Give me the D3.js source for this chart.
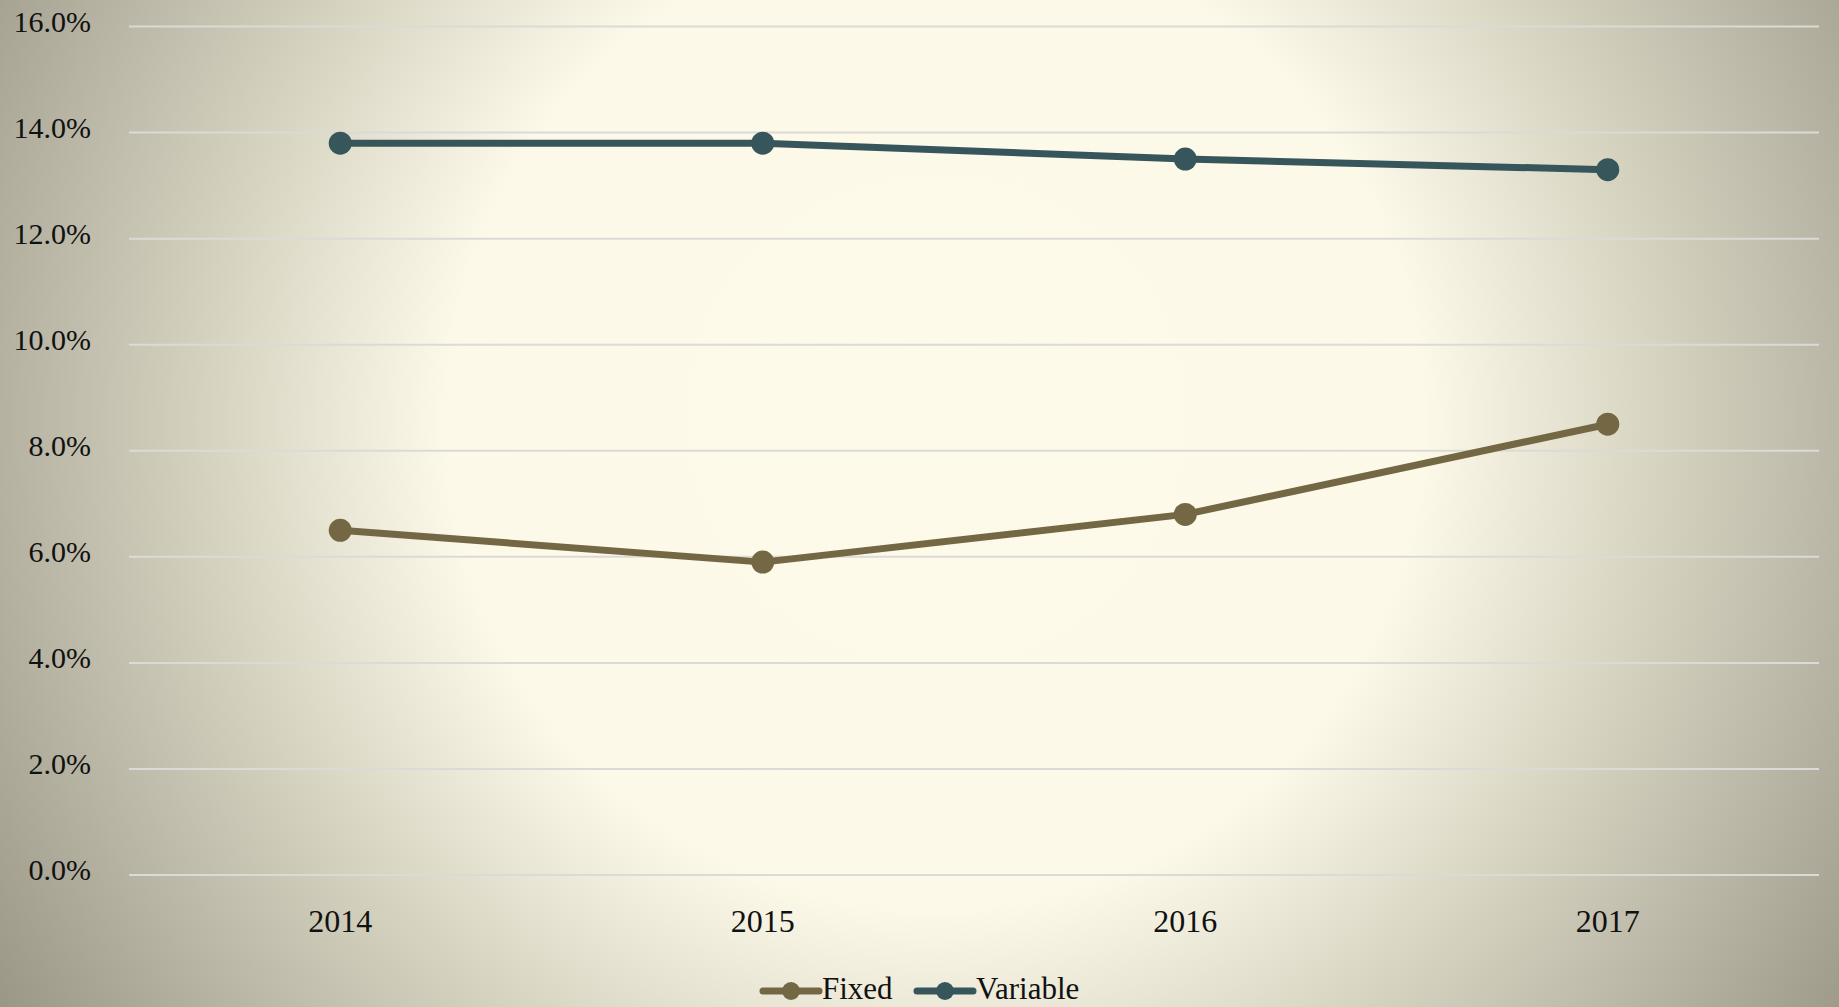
<!DOCTYPE html>
<html><head><meta charset="utf-8">
<script src="https://cdn.jsdelivr.net/npm/d3@7"></script>
<style>html,body{margin:0;padding:0;overflow:hidden;background:#fcf9e9}svg{display:block}</style>
</head><body>
<script>
const categories = ["2014","2015","2016","2017"];
const fixedValues = [6.5, 5.9, 6.8, 8.5];
const variableValues = [13.8, 13.8, 13.5, 13.3];
const yTicks = [0,2,4,6,8,10,12,14,16];
const seriesNames = ["Fixed","Variable"];
const seriesColors = ["#736843","#37565b"];

const W = 1839, H = 1007;
const svg = d3.select("body").append("svg").attr("width", W).attr("height", H);
const defs = svg.append("defs");
const g = defs.append("radialGradient").attr("id","bg").attr("gradientUnits","userSpaceOnUse")
  .attr("cx",935).attr("cy",420).attr("r",1110);
[[0,"#fdfaea"],[0.44,"#fcf9e9"],[0.64,"#d8d5c3"],[1,"#999686"]].forEach(([o,c])=>
  g.append("stop").attr("offset",o).attr("stop-color",c));
svg.append("rect").attr("width",W).attr("height",H).attr("fill","url(#bg)");

const x = d3.scaleBand().domain(categories).range([129,1819]);
const y = d3.scaleLinear().domain([0,16]).range([875,26.5]);
const font = "'Liberation Serif','DejaVu Serif',serif";

// gridlines
svg.append("g").selectAll("line").data(yTicks).join("line")
  .attr("x1",129).attr("x2",1819).attr("y1",d=>y(d)).attr("y2",d=>y(d))
  .attr("stroke","#dcdad6").attr("stroke-width",2);

// y axis
const yAxis = d3.axisLeft(y).tickValues(yTicks).tickFormat(d=>d.toFixed(1)+"%").tickSize(0).tickPadding(0);
const ya = svg.append("g").attr("transform","translate(91,0)").call(yAxis);
ya.select(".domain").remove();
ya.selectAll("text").attr("font-family",font).attr("font-size",30).attr("fill","#111")
  .attr("dy","0.15em");

// x axis
const xAxis = d3.axisBottom(x).tickSize(0).tickPadding(0);
const xa = svg.append("g").attr("transform","translate(0,906)").call(xAxis);
xa.select(".domain").remove();
xa.selectAll("text").attr("font-family",font).attr("font-size",32).attr("fill","#111").attr("dy","0.8em");

const series = [fixedValues, variableValues];
const line = d3.line().x((d,i)=>x(categories[i])+x.bandwidth()/2).y(d=>y(d));
series.forEach((vals,si)=>{
  svg.append("path").datum(vals).attr("d",line).attr("fill","none")
    .attr("stroke",seriesColors[si]).attr("stroke-width",7).attr("stroke-linejoin","round");
  svg.append("g").selectAll("circle").data(vals).join("circle")
    .attr("cx",(d,i)=>x(categories[i])+x.bandwidth()/2).attr("cy",d=>y(d)).attr("r",11.5)
    .attr("fill",seriesColors[si]);
});

// legend
const legendX = [763, 917];
const ly = 991;
seriesNames.forEach((name,i)=>{
  const lg = svg.append("g").attr("transform",`translate(${legendX[i]},${ly})`);
  lg.append("line").attr("x1",0).attr("x2",56).attr("y1",0).attr("y2",0)
    .attr("stroke",seriesColors[i]).attr("stroke-width",7).attr("stroke-linecap","round");
  lg.append("circle").attr("cx",28).attr("cy",0).attr("r",9).attr("fill",seriesColors[i]);
  lg.append("text").attr("x",59).attr("y",8).attr("font-family",font).attr("font-size",31)
    .attr("fill","#111").text(name);
});
</script>
</body></html>
